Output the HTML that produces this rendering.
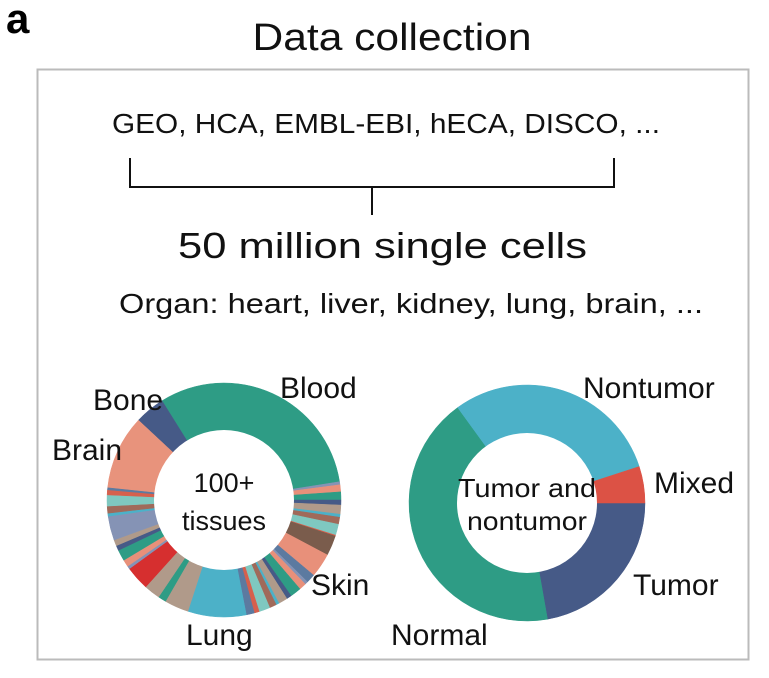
<!DOCTYPE html>
<html><head><meta charset="utf-8"><style>
body{margin:0;background:#fff;width:769px;height:673px;overflow:hidden}
svg text{font-family:"Liberation Sans",sans-serif;fill:#111}
</style></head><body>
<svg id="s" width="769" height="673" xmlns="http://www.w3.org/2000/svg">
<text x="6" y="33" font-size="42" font-weight="bold" style="fill:#000">a</text>
<text x="392" y="50" font-size="38" text-anchor="middle" textLength="279" lengthAdjust="spacingAndGlyphs">Data collection</text>
<rect x="37.5" y="69.5" width="711" height="590" fill="none" stroke="#bbb" stroke-width="2"/>
<text x="112" y="133" font-size="28" textLength="548" lengthAdjust="spacingAndGlyphs">GEO, HCA, EMBL-EBI, hECA, DISCO, ...</text>
<path d="M130 158V187H614V158M372 187V215" fill="none" stroke="#111" stroke-width="2"/>
<text x="178" y="258" font-size="36" textLength="409" lengthAdjust="spacingAndGlyphs">50 million single cells</text>
<text x="119" y="313" font-size="28" textLength="584" lengthAdjust="spacingAndGlyphs">Organ: heart, liver, kidney, lung, brain, ...</text>
<g id="L"></g><g id="R"></g>
<circle cx="224" cy="500" r="70" fill="#fff"/>
<circle cx="527" cy="503" r="70" fill="#fff"/>
<text x="224" y="492" font-size="27" text-anchor="middle">100+</text>
<text x="224" y="530" font-size="27" text-anchor="middle">tissues</text>
<text x="527" y="497" font-size="26" text-anchor="middle" textLength="138" lengthAdjust="spacingAndGlyphs">Tumor and</text>
<text x="527" y="530" font-size="26" text-anchor="middle" textLength="120" lengthAdjust="spacingAndGlyphs">nontumor</text>
<g font-size="30">
<text x="280" y="398">Blood</text>
<text x="93" y="410">Bone</text>
<text x="52" y="460">Brain</text>
<text x="311" y="595">Skin</text>
<text x="186" y="645">Lung</text>
<text x="583" y="398">Nontumor</text>
<text x="654" y="493">Mixed</text>
<text x="633" y="595">Tumor</text>
<text x="391" y="645">Normal</text>
</g>
</svg>
<script>
function arc(cx,cy,r,a0,a1,c){var t=Math.PI/180;var x0=cx+r*Math.cos(a0*t),y0=cy+r*Math.sin(a0*t),x1=cx+r*Math.cos(a1*t),y1=cy+r*Math.sin(a1*t);var l=(a1-a0)>180?1:0;return '<path d="M'+cx+' '+cy+'L'+x0+' '+y0+'A'+r+' '+r+' 0 '+l+' 1 '+x1+' '+y1+'Z" fill="'+c+'" stroke="'+c+'" stroke-width="0.5"/>';}
var R='';
R+=arc(527,503,118,0,80,'#465a87');
R+=arc(527,503,118,80,234,'#2e9c85');
R+=arc(527,503,118,234,342,'#4cb1c8');
R+=arc(527,503,118,342,360,'#dc5245');
document.getElementById('R').innerHTML=R;
var cols=['#8593b5','#e8907a','#2e9c85','#465a87','#b09a8a','#4cb1c8','#a06a5a','#7fc8c0','#d6604d','#5c7aa0'];
var L='';
L+=arc(224,500,117,238,351,'#2e9c85');
L+=arc(224,500,117,223,238,'#465a87');
L+=arc(224,500,117,186,223,'#e8937c');
var k=0;
function fill(a,b){var a0=a;while(a0<b){var w=Math.min(b-a0,1.5+((k*7)%5));L+=arc(224,500,117,a0,a0+w,cols[k%cols.length]);k++;a0+=w;}}
fill(351,360);fill(0,18);
L+=arc(224,500,117,18,28,'#7a5c4c');
L+=arc(224,500,117,28,40,'#e8907a');
fill(40,79);
L+=arc(224,500,117,79,108,'#4cb1c8');
L+=arc(224,500,117,108,120,'#b09a8a');
L+=arc(224,500,117,120,124,'#2e9c85');
L+=arc(224,500,117,124,132,'#b09a8a');
L+=arc(224,500,117,132,144,'#d62f2f');
fill(144,160);
L+=arc(224,500,117,160,172,'#8593b5');
fill(172,186);
document.getElementById('L').innerHTML=L;
</script>
</body></html>
